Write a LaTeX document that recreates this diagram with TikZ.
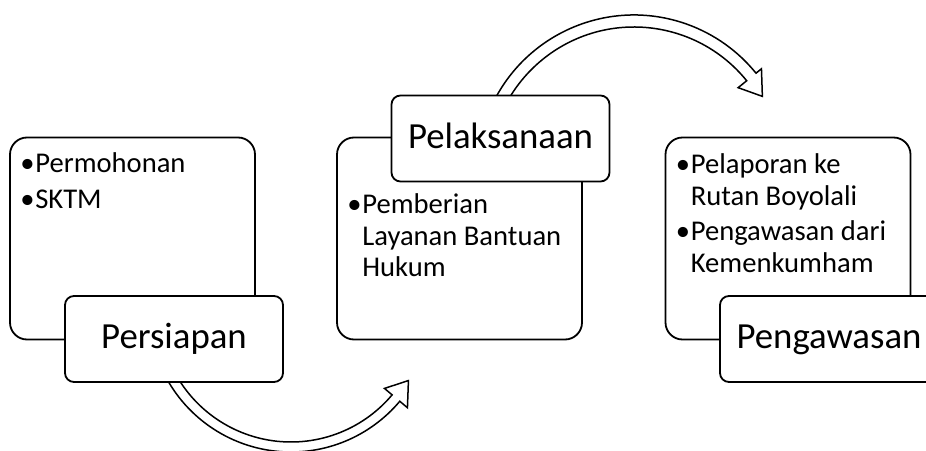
\documentclass[tikz,border=0pt]{standalone}
\usepackage{fontspec}
\setmainfont{Carlito}
\begin{document}
\begin{tikzpicture}[x=1pt,y=1pt,
  cbox/.style={draw, line width=1.8pt, rounded corners=17pt, fill=white,
    minimum width=245pt, minimum height=202pt, inner sep=0pt},
  lbox/.style={draw, line width=1.8pt, rounded corners=9pt, fill=white,
    minimum width=218pt, minimum height=86pt, inner sep=0pt,
    font=\fontsize{36.8pt}{44pt}\selectfont, text height=23.7pt, text depth=4.4pt},
  btext/.style={anchor=base west, inner sep=0pt,
    font=\fontsize{28.6pt}{31.5pt}\selectfont},
  barrow/.style={draw, line width=1.5pt, fill=white, line join=miter}]
\useasboundingbox (0,0) rectangle (926,450);
\clip (0,0) rectangle (926,450);
% arrow centres
\coordinate (a1c) at (291,140);
\coordinate (a2c) at (634,278);
% curved block arrows
\draw[barrow, shift={(a1c)}] (205:142pt) arc[start angle=205, end angle=320, radius=142pt]
  -- (320:152pt) -- (329:137pt) -- (320:122pt) -- (320:132pt)
  arc[start angle=320, end angle=205, radius=132pt] -- cycle;
\draw[barrow, shift={(a2c)}] (160:157pt) arc[start angle=160, end angle=39, radius=157pt]
  -- (39:164pt) -- (30.5:149pt) -- (39:134pt) -- (39:145pt)
  arc[start angle=39, end angle=160, radius=145pt] -- cycle;
% content boxes
\node[cbox] (c1) at (132.5,211.5) {};
\node[cbox] (c2) at (459.5,211.5) {};
\node[cbox] (c3) at (788,211.5) {};
% bullet texts
\node[btext] (t1) at ([xshift=11pt,yshift=-35.5pt]c1.north west)
  {\parbox[t]{240pt}{\raggedright
   \makebox[15pt][l]{•}Permohonan\\[5pt]
   \makebox[15pt][l]{•}SKTM}};
\node[btext] (t2) at ([xshift=11pt,yshift=-77pt]c2.north west)
  {\parbox[t]{240pt}{\raggedright
   \makebox[15pt][l]{•}Pemberian\\
   \hspace*{15pt}Layanan Bantuan\\
   \hspace*{15pt}Hukum}};
\node[btext] (t3) at ([xshift=11pt,yshift=-37pt]c3.north west)
  {\parbox[t]{240pt}{\raggedright
   \makebox[15pt][l]{•}Pelaporan ke\\
   \hspace*{15pt}Rutan Boyolali\\[4pt]
   \makebox[15pt][l]{•}Pengawasan dari\\
   \hspace*{15pt}Kemenkumham}};
% label boxes
\node[lbox] (l1) at (174,111) {Persiapan};
\node[lbox] (l2) at (500.5,311.5) {Pelaksanaan};
\node[lbox] (l3) at (829,111) {Pengawasan};
\end{tikzpicture}
\end{document}
